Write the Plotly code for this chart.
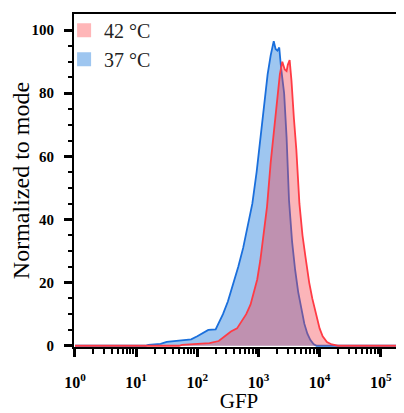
import plotly.graph_objects as go

# ---- data ----
log_gfp_37 = [0.0, 1.15, 1.2, 1.4, 1.5, 1.7, 1.9, 2.0, 2.1, 2.18, 2.3, 2.35, 2.42, 2.5, 2.58,
              2.67, 2.75, 2.82, 2.9, 2.97, 3.05, 3.1, 3.15, 3.2, 3.25, 3.28, 3.31, 3.34, 3.37,
              3.42, 3.46, 3.5, 3.55, 3.6, 3.65, 3.7, 3.75, 3.8, 3.85, 3.9, 3.95, 5.4]
count_37 = [0, 0, 0.3, 0.6, 1.2, 1.5, 2.0, 3, 4.2, 5, 5.2, 7, 10, 14, 19,
            25, 31, 38, 45, 55, 68, 76, 86, 92, 96.5, 94, 93.5, 94.5, 88,
            80, 66, 46, 33, 24, 17, 12, 7, 3.8, 1.8, 0.5, 0, 0]

log_gfp_42 = [0.0, 1.7, 1.75, 2.0, 2.2, 2.35, 2.45, 2.55, 2.65, 2.72, 2.8, 2.87, 2.93, 2.98,
              3.03, 3.08, 3.14, 3.2, 3.26, 3.31, 3.35, 3.39, 3.43, 3.46, 3.48, 3.51, 3.54,
              3.58, 3.62, 3.67, 3.72, 3.77, 3.83, 3.88, 3.94, 4.0, 4.05, 4.12, 4.2, 4.3, 5.4]
count_42 = [0, 0, 0.3, 0.5, 0.8, 1.5, 3, 4.5, 5.5, 7.5, 10, 13, 17, 21,
            27, 35, 44, 58, 70, 78, 86, 90, 87.5, 87, 89, 90.5, 84,
            72, 62, 45, 35, 28, 20, 15, 10, 5.5, 3, 1.2, 0.4, 0, 0]

series_names = ["42 °C", "37 °C"]
x_tick_vals = [1, 10, 100, 1000, 10000, 100000]
x_tick_text = ["<b>10<sup>0</sup></b>", "<b>10<sup>1</sup></b>", "<b>10<sup>2</sup></b>",
               "<b>10<sup>3</sup></b>", "<b>10<sup>4</sup></b>", "<b>10<sup>5</sup></b>"]
y_tick_vals = [0, 20, 40, 60, 80, 100]
y_tick_text = ["<b>%d</b>" % v for v in y_tick_vals]

gfp_37 = [10 ** v for v in log_gfp_37]
gfp_42 = [10 ** v for v in log_gfp_42]

minor_x = [m * 10 ** d for d in range(0, 6) for m in range(2, 10)]
minor_y = [v for v in range(5, 105, 5) if v % 20 != 0]

SERIF = "Liberation Serif, Times New Roman, serif"

fig = go.Figure()
fig.add_trace(go.Scatter(x=gfp_37, y=count_37, mode="lines", fill="tozeroy",
                         line=dict(color="#1a6fdc", width=1.8),
                         fillcolor="rgb(158,198,240)", showlegend=False))
fig.add_trace(go.Scatter(x=gfp_42, y=count_42, mode="lines", fill="tozeroy",
                         line=dict(color="#ff3b45", width=1.8),
                         fillcolor="rgba(245,60,70,0.38)", showlegend=False))
# legend entries
fig.add_trace(go.Scatter(x=[None], y=[None], mode="markers", name=series_names[0],
                         marker=dict(symbol="square", size=14, color="#ffb6b8")))
fig.add_trace(go.Scatter(x=[None], y=[None], mode="markers", name=series_names[1],
                         marker=dict(symbol="square", size=14, color="#9ec6f0")))

# page body has an 8px margin: figure occupies 8..404 x 8..413
fig.update_layout(
    width=396, height=405,
    margin=dict(l=66, r=0, t=6, b=66, autoexpand=False),
    paper_bgcolor="white", plot_bgcolor="white",
    font=dict(family=SERIF, color="black"),
    legend=dict(x=-0.03, y=1.01, xanchor="left", yanchor="top",
                font=dict(family=SERIF, size=20, color="#222"),
                bgcolor="rgba(0,0,0,0)", itemwidth=30, tracegroupgap=0),
)
fig.update_xaxes(
    type="log", range=[-0.016, 5.38], automargin=False,
    tickmode="array", tickvals=x_tick_vals, ticktext=x_tick_text,
    ticks="outside", ticklen=8, tickwidth=2.5, tickcolor="black",
    tickfont=dict(family=SERIF, size=16, color="black"), ticklabelstandoff=12,
    showline=True, linecolor="black", linewidth=2, mirror=True,
    showgrid=False, zeroline=False,
    minor=dict(tickmode="array", tickvals=minor_x, ticks="outside", ticklen=5,
               tickwidth=1.5, tickcolor="black", showgrid=False),
    title=dict(text="GFP", font=dict(family=SERIF, size=21, color="black"), standoff=6),
)
fig.update_yaxes(
    range=[-0.4, 105.1], automargin=False,
    tickmode="array", tickvals=y_tick_vals, ticktext=y_tick_text,
    ticks="outside", ticklen=8, tickwidth=2.5, tickcolor="black",
    tickfont=dict(family=SERIF, size=15, color="black"), ticklabelstandoff=7,
    showline=True, linecolor="black", linewidth=2, mirror=False,
    showgrid=False, zeroline=False,
    minor=dict(tickmode="array", tickvals=minor_y, ticks="outside", ticklen=4,
               tickwidth=1.5, tickcolor="black", showgrid=False),
    title=dict(text="Normalized to mode", font=dict(family=SERIF, size=24, color="black"), standoff=6),
)

fig.write_html("out.html")
